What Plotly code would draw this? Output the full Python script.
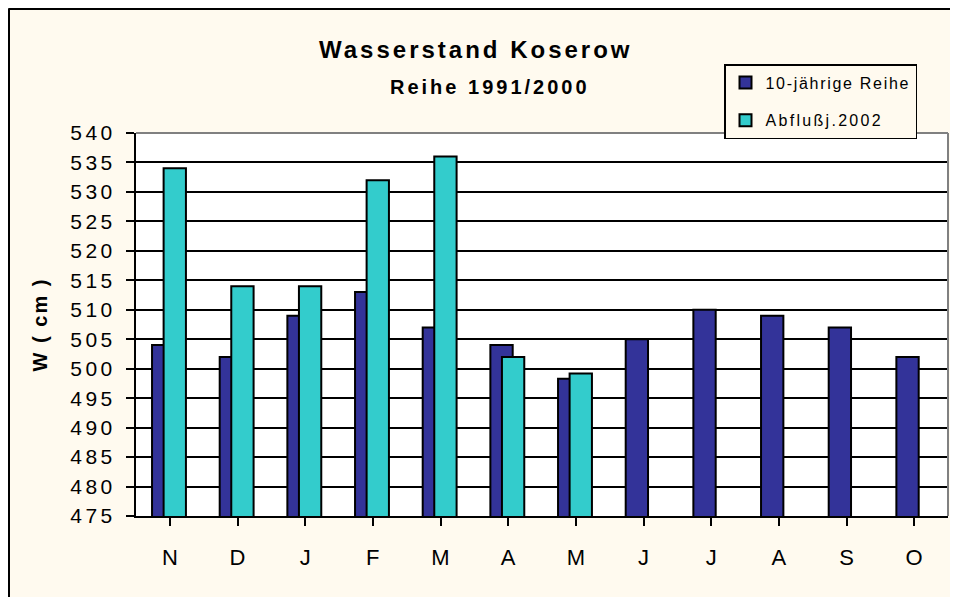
import plotly.graph_objects as go

months = ["N", "D", "J", "F", "M", "A", "M", "J", "J", "A", "S", "O"]
cats = list(range(len(months)))
reihe = [504, 502, 509, 513, 507, 504, 498.3, 505, 510, 509, 507, 502]
abfluss = [534, 514, 514, 532, 536, 502, 499.2, None, None, None, None, None]
y_ticks = [475, 480, 485, 490, 495, 500, 505, 510, 515, 520, 525, 530, 535, 540]

FONT = "Liberation Sans, Arial, sans-serif"
CREAM = "#FFFAEF"
PH = 383.0   # plot height px
PW = 812.0   # plot width px

def spaced(t, px):
    return f'<span style="letter-spacing:{px}px">{t}</span>'

# page pixel -> paper coordinate helpers (page has 8px body margin)
def py(page_y):
    return (516 - page_y) / PH

def px_(page_x):
    return (page_x - 136) / PW

fig = go.Figure()
fig.add_trace(go.Bar(
    x=cats, y=reihe, name=spaced("10-jährige Reihe", 1.7), legendgroup="a",
    marker=dict(color="#333399", line=dict(color="black", width=2)),
    width=0.33, offset=-0.263,
))
fig.add_trace(go.Bar(
    x=cats, y=abfluss, name=spaced("Abflußj.2002", 2.3), legendgroup="b",
    marker=dict(color="#33CCCC", line=dict(color="black", width=2)),
    width=0.33, offset=-0.092,
))

fig.update_layout(
    width=950, height=589,
    margin=dict(l=128, r=10, t=125, b=81),
    paper_bgcolor=CREAM, plot_bgcolor="white",
    barmode="overlay",
    font=dict(family=FONT, color="black"),
    showlegend=True,
    legend=dict(
        x=px_(724), y=py(64), xanchor="left", yanchor="top",
        bgcolor=CREAM, bordercolor="black", borderwidth=1.5,
        font=dict(size=16, family=FONT), tracegroupgap=14,
        itemwidth=30,
    ),
    xaxis=dict(
        tickmode="array", tickvals=cats, ticktext=months,
        range=[-0.5, 11.5], tickson="boundaries",
        ticks="outside", ticklen=8, tickwidth=2, tickcolor="black",
        showline=True, linecolor="black", linewidth=2,
        showgrid=False, tickfont=dict(size=22, family=FONT),
        ticklabelstandoff=13,
    ),
    yaxis=dict(
        tickmode="array", tickvals=y_ticks,
        ticktext=[spaced(str(v), 3.5) for v in y_ticks],
        range=[475, 540],
        ticks="outside", ticklen=8, tickwidth=2, tickcolor="black",
        showline=True, linecolor="black", linewidth=2,
        showgrid=True, gridcolor="black", gridwidth=1.5,
        tickfont=dict(size=21, family=FONT), ticklabelstandoff=6,
        title=dict(text=spaced("<b>W ( cm )</b>", 2), font=dict(size=20, family=FONT), standoff=17),
        zeroline=False,
    ),
    annotations=[
        dict(text=spaced("<b>Wasserstand Koserow</b>", 3.0), x=px_(476), y=py(50),
             xref="paper", yref="paper", xanchor="center", yanchor="middle",
             showarrow=False, font=dict(size=24, family=FONT)),
        dict(text=spaced("<b>Reihe 1991/2000</b>", 3.0), x=px_(490), y=py(87),
             xref="paper", yref="paper", xanchor="center", yanchor="middle",
             showarrow=False, font=dict(size=20, family=FONT)),
    ],
    shapes=[
        dict(type="line", xref="paper", yref="paper", x0=0, x1=1, y0=1, y1=1,
             line=dict(color="#808080", width=2), layer="above"),
        dict(type="line", xref="paper", yref="paper", x0=1, x1=1, y0=0, y1=1,
             line=dict(color="#808080", width=2), layer="above"),
        # outer chart frame (top and left edges)
        dict(type="line", xref="paper", yref="paper", x0=px_(8.5), x1=2, y0=py(8.5), y1=py(8.5),
             line=dict(color="black", width=3), layer="above"),
        dict(type="line", xref="paper", yref="paper", x0=px_(8.5), x1=px_(8.5), y0=-1, y1=py(8.5),
             line=dict(color="black", width=3), layer="above"),
    ],
)

fig.write_html("out.html")
